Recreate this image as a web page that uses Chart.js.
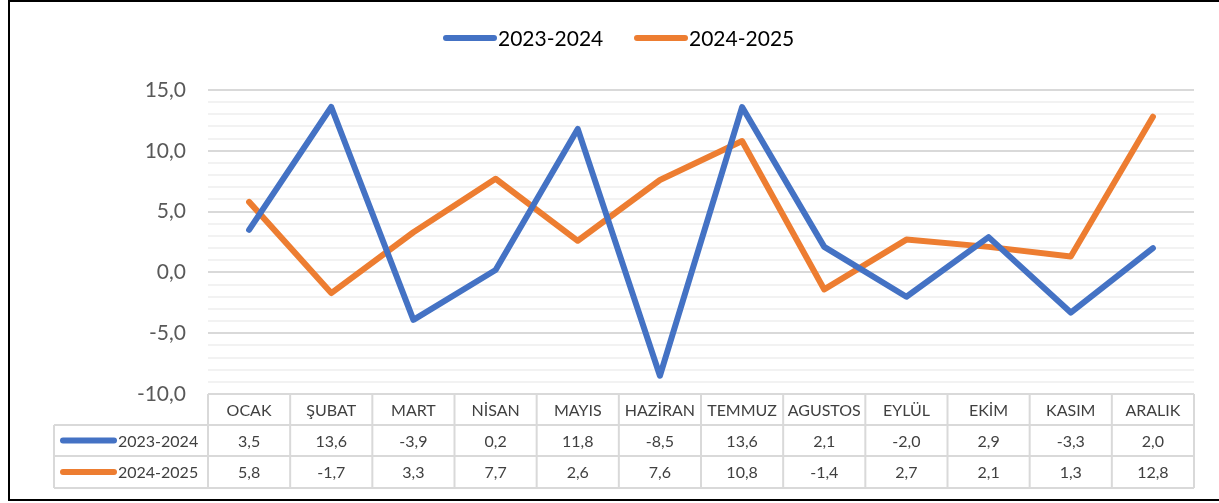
<!DOCTYPE html>
<html>
<head>
<meta charset="utf-8">
<script src="https://cdn.jsdelivr.net/npm/chart.js@4"></script>
<style>
  body { margin: 0; background: #fff; }
</style>
</head>
<body>
<canvas id="myChart" width="1219" height="503"></canvas>
<script>
const months = ['OCAK', 'ŞUBAT', 'MART', 'NİSAN', 'MAYIS', 'HAZİRAN', 'TEMMUZ', 'AGUSTOS', 'EYLÜL', 'EKİM', 'KASIM', 'ARALIK'];
const series1Name = '2023-2024';
const series2Name = '2024-2025';
const series1 = [3.5, 13.6, -3.9, 0.2, 11.8, -8.5, 13.6, 2.1, -2.0, 2.9, -3.3, 2.0];
const series2 = [5.8, -1.7, 3.3, 7.7, 2.6, 7.6, 10.8, -1.4, 2.7, 2.1, 1.3, 12.8];
const yMin = -10;
const yMax = 15;

const BLUE = '#4472C4';
const ORANGE = '#ED7D31';
const FONT = 'Lato, "Open Sans", sans-serif';

function fmt(v) {
  return v.toFixed(1).replace('.', ',');
}

// draws the legend at the top, the data table under the plot and the outer frame
const tablePlugin = {
  id: 'tablePlugin',
  beforeDraw(chart) {
    const c = chart.ctx;
    c.save();
    c.fillStyle = '#fff';
    c.fillRect(0, 0, chart.width, chart.height);
    c.restore();
  },
  afterDraw(chart) {
    const c = chart.ctx;
    const x = chart.scales.x;
    const area = chart.chartArea;
    const step = x.getPixelForValue(1) - x.getPixelForValue(0);
    const left = area.left;
    const right = area.right;
    const top = area.bottom;
    const rowY = [top, top + 31, top + 62, top + 94];
    const labelLeft = 54;

    c.save();
    // grid of the table
    c.strokeStyle = '#d9d9d9';
    c.lineWidth = 2;
    c.beginPath();
    c.moveTo(left, rowY[0]); c.lineTo(right, rowY[0]);
    for (let r = 1; r < 4; r++) {
      c.moveTo(labelLeft, rowY[r]); c.lineTo(right, rowY[r]);
    }
    c.moveTo(labelLeft, rowY[1]); c.lineTo(labelLeft, rowY[3]);
    for (let i = 0; i <= months.length; i++) {
      const px = left + i * step;
      c.moveTo(px, rowY[0]); c.lineTo(px, rowY[3]);
    }
    c.stroke();

    // cell texts
    c.fillStyle = '#404040';
    c.font = '16px ' + FONT;
    c.textAlign = 'center';
    c.textBaseline = 'middle';
    months.forEach((m, i) => {
      const cx = x.getPixelForValue(i);
      c.fillText(m, cx, (rowY[0] + rowY[1]) / 2 + 1);
      c.fillText(fmt(series1[i]), cx, (rowY[1] + rowY[2]) / 2 + 1);
      c.fillText(fmt(series2[i]), cx, (rowY[2] + rowY[3]) / 2 + 1);
    });

    // row labels with line keys
    c.lineCap = 'round';
    c.lineWidth = 6;
    [[series1Name, BLUE, 1], [series2Name, ORANGE, 2]].forEach(([name, col, r]) => {
      const cy = (rowY[r] + rowY[r + 1]) / 2;
      c.strokeStyle = col;
      c.beginPath();
      c.moveTo(63, cy); c.lineTo(114, cy);
      c.stroke();
      c.textAlign = 'left';
      c.fillStyle = '#404040';
      c.fillText(name, 118, cy + 1);
    });

    // legend at the top
    c.font = '21px ' + FONT;
    c.fillStyle = '#000';
    c.textBaseline = 'middle';
    [[series1Name, BLUE, 446], [series2Name, ORANGE, 637]].forEach(([name, col, lx]) => {
      c.strokeStyle = col;
      c.lineWidth = 6;
      c.beginPath();
      c.moveTo(lx, 38); c.lineTo(lx + 48, 38);
      c.stroke();
      c.textAlign = 'left';
      c.fillText(name, lx + 52, 39);
    });

    // outer frame (left, top and bottom edges)
    c.strokeStyle = '#000';
    c.lineWidth = 2;
    c.lineCap = 'butt';
    c.beginPath();
    c.moveTo(1219, 1); c.lineTo(9, 1); c.lineTo(9, 500); c.lineTo(1219, 500);
    c.stroke();
    c.restore();
  }
};

window.onload = function() {
  const ctx = document.getElementById('myChart').getContext('2d');
  const myChart = new Chart(ctx, {
    type: 'line',
    data: {
      labels: months,
      datasets: [{
        label: series1Name,
        data: series1,
        borderColor: BLUE,
        backgroundColor: BLUE,
        borderWidth: 6,
        borderCapStyle: 'round',
        borderJoinStyle: 'round',
        pointRadius: 0,
        tension: 0
      }, {
        label: series2Name,
        data: series2,
        borderColor: ORANGE,
        backgroundColor: ORANGE,
        borderWidth: 6,
        borderCapStyle: 'round',
        borderJoinStyle: 'round',
        pointRadius: 0,
        tension: 0
      }]
    },
    options: {
      responsive: false,
      animation: false,
      layout: {
        padding: { left: 0, right: 25, top: 90, bottom: 109 }
      },
      plugins: {
        legend: { display: false },
        tooltip: { enabled: false }
      },
      scales: {
        x: {
          display: false,
          offset: true
        },
        y: {
          min: yMin,
          max: yMax,
          afterFit: scale => { scale.width = 208; },
          border: { display: false },
          grid: {
            drawTicks: false,
            lineWidth: 2,
            color: g => (g.tick.value % 5 === 0 ? '#d9d9d9' : '#f2f2f2')
          },
          ticks: {
            stepSize: 1,
            autoSkip: false,
            padding: 22,
            color: '#595959',
            font: { family: FONT, size: 21 },
            callback: v => (v % 5 === 0 ? fmt(v) : '')
          }
        }
      }
    },
    plugins: [tablePlugin]
  });
};
</script>
</body>
</html>
